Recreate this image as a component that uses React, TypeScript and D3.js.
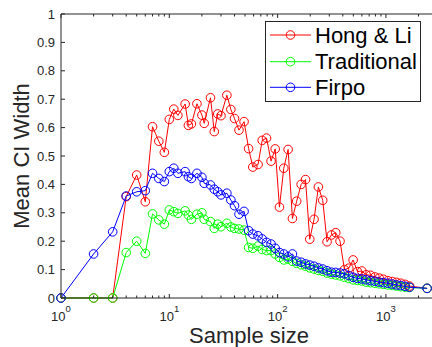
import React from 'react';
import * as d3 from 'd3';

const width = 432;
const height = 347;
const margin = { left: 61, top: 14, bottom: 49 };

// sample sizes (shared by all three series)
const sampleSizes = [
	1, 2, 3, 4, 5, 6, 7, 8, 9, 10, 11, 12, 14, 15, 16, 18, 20, 21, 24, 26, 28, 30,
	34, 37, 40, 44, 49, 54, 59, 66, 72, 79, 87, 95, 104, 114, 125, 137, 150, 165,
	181, 198, 217, 238, 261, 286, 314, 344, 377, 414, 454, 498, 546, 599, 657, 720,
	790, 866, 950, 1042, 1143, 1253, 1374, 1507, 1653, 2400
];

const hongLi = [
	0, 0, 0, 0.357, 0.433, 0.339, 0.603, 0.552, 0.513, 0.629, 0.665, 0.643, 0.683,
	0.608, 0.613, 0.684, 0.644, 0.615, 0.705, 0.586, 0.648, 0.642, 0.714, 0.664,
	0.632, 0.591, 0.621, 0.526, 0.461, 0.47, 0.555, 0.563, 0.482, 0.525, 0.32,
	0.457, 0.523, 0.28, 0.341, 0.4, 0.417, 0.207, 0.277, 0.391, 0.344, 0.198,
	0.222, 0.23, 0.2, 0.1, 0.105, 0.134, 0.093, 0.095, 0.082, 0.08, 0.074, 0.07,
	0.066, 0.061, 0.058, 0.055, 0.052, 0.048, 0.042, 0.034
];

const traditional = [
	0, 0, 0, 0.16, 0.2, 0.157, 0.296, 0.275, 0.26, 0.31, 0.304, 0.298, 0.307,
	0.292, 0.277, 0.295, 0.3, 0.277, 0.269, 0.245, 0.26, 0.251, 0.263, 0.25,
	0.245, 0.243, 0.239, 0.178, 0.175, 0.183, 0.171, 0.167, 0.167, 0.155, 0.143,
	0.134, 0.137, 0.129, 0.122, 0.117, 0.112, 0.106, 0.102, 0.097, 0.094, 0.088,
	0.084, 0.081, 0.078, 0.073, 0.069, 0.064, 0.062, 0.06, 0.056, 0.054, 0.052,
	0.05, 0.048, 0.046, 0.044, 0.042, 0.04, 0.038, 0.037, 0.034
];

const firpo = [
	0, 0.155, 0.233, 0.359, 0.374, 0.378, 0.439, 0.421, 0.41, 0.445, 0.457, 0.439,
	0.445, 0.427, 0.421, 0.439, 0.425, 0.404, 0.398, 0.383, 0.374, 0.363, 0.369,
	0.345, 0.325, 0.295, 0.305, 0.237, 0.225, 0.219, 0.208, 0.196, 0.19, 0.175,
	0.16, 0.155, 0.145, 0.155, 0.13, 0.126, 0.12, 0.116, 0.112, 0.106, 0.102,
	0.096, 0.091, 0.09, 0.088, 0.085, 0.079, 0.073, 0.069, 0.067, 0.064, 0.061,
	0.059, 0.056, 0.054, 0.052, 0.049, 0.046, 0.044, 0.041, 0.038, 0.034
];

const yTicks = [0, 0.1, 0.2, 0.3, 0.4, 0.5, 0.6, 0.7, 0.8, 0.9, 1];
const xTicks = [1, 10, 100, 1000];
const xTickExps = ['0', '1', '2', '3'];

const series = [
	{ name: 'Hong & Li', values: hongLi, color: '#ff0000' },
	{ name: 'Traditional', values: traditional, color: '#00ff00' },
	{ name: 'Firpo', values: firpo, color: '#0000ff' }
];

const axisColor = '#262626';
const font = 'Liberation Sans, Arial, sans-serif';

export default function App() {
	const x = d3.scaleLog().domain([1, 3000]).range([margin.left, 437.6]);
	const y = d3
		.scaleLinear()
		.domain([0, 1])
		.range([height - margin.bottom, margin.top]);

	const x0 = margin.left;
	const x1 = x(3000);
	const y0 = y(0);
	const y1 = y(1);

	const minor: number[] = [];
	[1, 10, 100, 1000].forEach(dec => {
		for (let k = 2; k <= 9; k++) {
			if (dec * k <= 3000) minor.push(dec * k);
		}
	});

	const line = d3
		.line<number>()
		.x((d, i) => x(sampleSizes[i]))
		.y(d => y(d));

	const legendRows = [35, 61.7, 87.3];

	return (
		<svg
			width={width}
			height={height}
			style={{ position: 'absolute', left: 0, top: 0, background: '#fff' }}
			fontFamily={font}
		>
			{/* data */}
			{series.map(s => (
				<g key={s.name}>
					<path d={line(s.values) || ''} fill="none" stroke={s.color} strokeWidth={1} />
					{s.values.map((v, i) => (
						<circle
							key={i}
							cx={x(sampleSizes[i])}
							cy={y(v)}
							r={4.3}
							fill="none"
							stroke={s.color}
							strokeWidth={1}
						/>
					))}
				</g>
			))}

			{/* axes box */}
			<g stroke={axisColor} strokeWidth={1} fill="none">
				<line x1={x0} x2={x1} y1={y0} y2={y0} />
				<line x1={x0} x2={x1} y1={y1} y2={y1} />
				<line x1={x0} x2={x0} y1={y0} y2={y1} />
				{yTicks.map(t => (
					<line key={'yt' + t} x1={x0} x2={x0 + 4} y1={y(t)} y2={y(t)} />
				))}
				{xTicks.map(t => (
					<g key={'xt' + t}>
						<line x1={x(t)} x2={x(t)} y1={y0} y2={y0 - 4} />
						<line x1={x(t)} x2={x(t)} y1={y1} y2={y1 + 4} />
					</g>
				))}
				{minor.map(t => (
					<g key={'mt' + t}>
						<line x1={x(t)} x2={x(t)} y1={y0} y2={y0 - 2.5} />
						<line x1={x(t)} x2={x(t)} y1={y1} y2={y1 + 2.5} />
					</g>
				))}
			</g>

			{/* tick labels */}
			{yTicks.map(t => (
				<text
					key={'yl' + t}
					x={x0 - 6}
					y={y(t)}
					dy="0.35em"
					textAnchor="end"
					fontSize={13}
					fill={axisColor}
				>
					{t === 0 ? '0' : t === 1 ? '1' : d3.format('.1f')(t)}
				</text>
			))}
			{xTicks.map((t, i) => (
				<text key={'xl' + t} x={x(t)} y={320.5} textAnchor="middle" fontSize={13} fill={axisColor}>
					<tspan>10</tspan>
					<tspan dy={-8.5} fontSize={9.5}>
						{xTickExps[i]}
					</tspan>
				</text>
			))}

			{/* axis labels */}
			<text x={249} y={343} textAnchor="middle" fontSize={22} fill={axisColor}>
				Sample size
			</text>
			<text
				transform="translate(28.5,156) rotate(-90)"
				textAnchor="middle"
				fontSize={22}
				fill={axisColor}
			>
				Mean CI Width
			</text>

			{/* legend */}
			<rect x={265.5} y={21.5} width={155} height={80} fill="#fff" stroke={axisColor} strokeWidth={1} />
			{series.map((s, i) => (
				<g key={'lg' + s.name}>
					<line x1={270} x2={311} y1={legendRows[i]} y2={legendRows[i]} stroke={s.color} strokeWidth={1} />
					<circle cx={290.5} cy={legendRows[i]} r={4.3} fill="none" stroke={s.color} strokeWidth={1} />
					<text x={315} y={legendRows[i]} dy="0.35em" fontSize={22} fill="#000">
						{s.name}
					</text>
				</g>
			))}
		</svg>
	);
}
